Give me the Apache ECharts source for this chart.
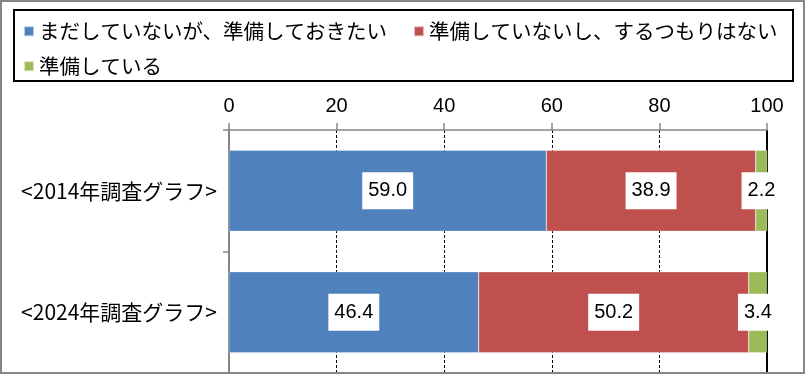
<!DOCTYPE html>
<html><head><meta charset="utf-8">
<script src="https://cdn.jsdelivr.net/npm/echarts@6/dist/echarts.min.js"></script>
<style>html,body{margin:0;padding:0;background:#fff}#c{width:805px;height:374px}</style>
</head><body><div id="c"></div>
<script>
const categories = ['<2014年調査グラフ>', '<2024年調査グラフ>'];
const seriesNames = ['まだしていないが、準備しておきたい', '準備していないし、するつもりはない', '準備している'];
const notYetWant = [59.0, 46.4];
const notPlanning = [38.9, 50.2];
const prepared = [2.2, 3.4];
const xTicks = [0, 20, 40, 60, 80, 100];
const colors = ['#4F81BD', '#C0504D', '#9BBB59'];

const FONT = '"Liberation Sans", "Noto Sans CJK JP", sans-serif';
const chart = echarts.init(document.getElementById('c'), null, {renderer: 'canvas'});
const label = {
  show: true, position: 'inside', color: '#000', fontSize: 20, fontFamily: FONT,
  backgroundColor: '#fff', padding: [9, 6, 8, 6],
  formatter: p => p.value.toFixed(1)
};
const values = [notYetWant, notPlanning, prepared];
const series = values.map((v, i) => ({
  name: seriesNames[i], type: 'bar', stack: 'total', data: v,
  barWidth: '66.7%',
  z: i === 0 ? 1 : 3,
  itemStyle: {color: colors[i], borderColor: 'rgba(255,255,255,0.6)', borderWidth: 0.5},
  label: label,
  emphasis: {disabled: true},
  markLine: i === 0 ? {
    silent: true, symbol: 'none', label: {show: false}, z: 0,
    lineStyle: {color: '#000', type: 'solid', width: 2},
    data: [{xAxis: xTicks[xTicks.length - 1]}]
  } : undefined
}));
const legendBase = {
  icon: 'rect', itemWidth: 10, itemHeight: 10, itemGap: 5, orient: 'horizontal',
  textStyle: {fontSize: 20.5, color: '#000', fontFamily: '"Noto Sans CJK JP", sans-serif'},
  selectedMode: false
};
chart.setOption({
  animation: false,
  color: colors,
  graphic: [
    {type: 'rect', shape: {x: 1, y: 1, width: 803, height: 372}, style: {fill: 'none', stroke: '#868686', lineWidth: 2}, z: 100},
    {type: 'rect', shape: {x: 14, y: 10, width: 779, height: 71}, style: {fill: 'none', stroke: '#000', lineWidth: 2}, z: 100}
  ],
  legend: [
    Object.assign({}, legendBase, {data: [seriesNames[0]], left: 18, top: 16}),
    Object.assign({}, legendBase, {data: [seriesNames[1]], left: 408, top: 16}),
    Object.assign({}, legendBase, {data: [seriesNames[2]], left: 18, top: 51})
  ],
  grid: {left: 229, right: 38, top: 130, bottom: 1, containLabel: false},
  xAxis: {
    type: 'value', position: 'top', min: 0, max: 100, interval: 20,
    axisLine: {show: true, lineStyle: {color: '#868686', width: 1.5}},
    axisTick: {show: true, inside: false, length: 7, lineStyle: {color: '#868686', width: 1.5}},
    axisLabel: {margin: 14, fontSize: 20, color: '#000', fontFamily: FONT,
      formatter: v => xTicks.includes(v) ? String(v) : ''},
    splitLine: {show: true, lineStyle: {color: '#000', type: [3, 2], width: 1}}
  },
  yAxis: {
    type: 'category', data: categories, inverse: true,
    axisLine: {show: true, lineStyle: {color: '#868686', width: 2}},
    axisTick: {show: true, length: 6, lineStyle: {color: '#868686', width: 1.5}},
    axisLabel: {margin: 12, fontSize: 21, color: '#000', fontFamily: '"Noto Sans CJK JP", sans-serif'}
  },
  series: series
});
</script></body></html>
